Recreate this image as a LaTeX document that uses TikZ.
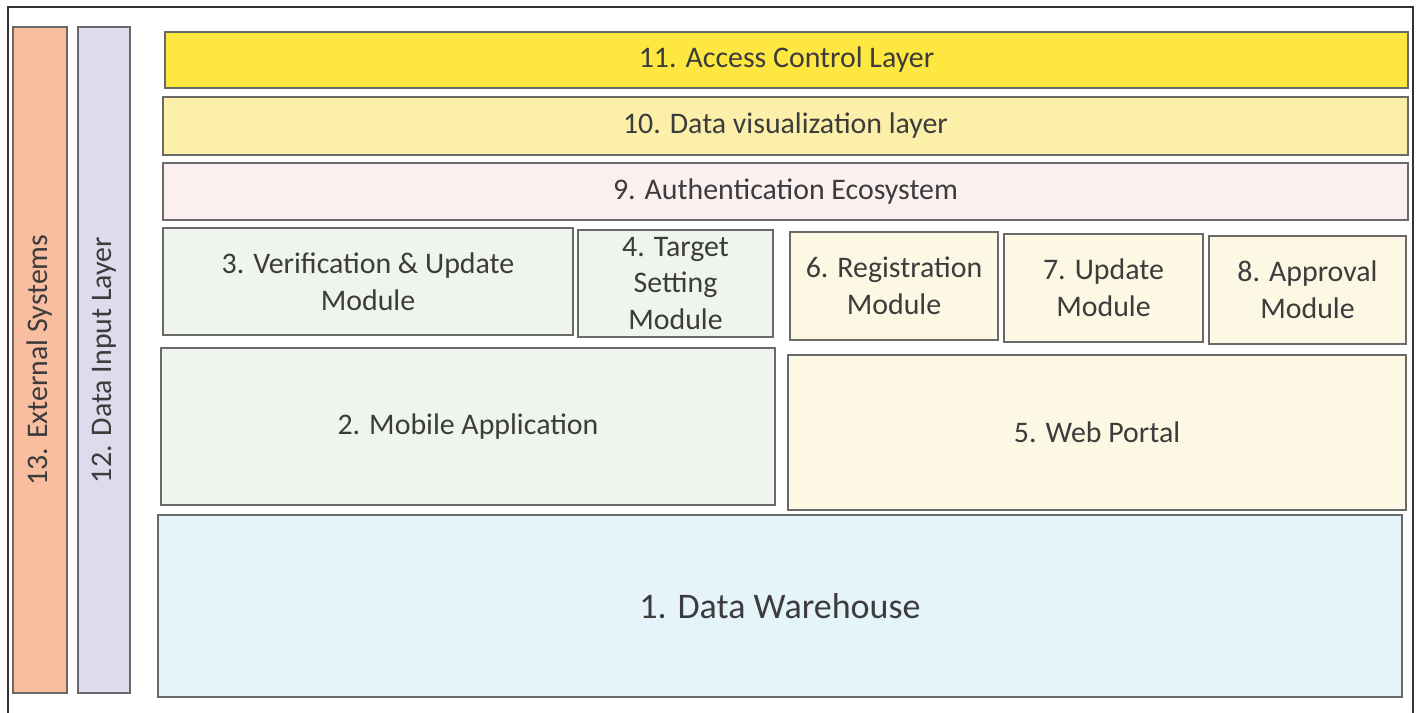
\documentclass[tikz,border=0pt]{standalone}
\usepackage{fontspec}
\setmainfont{Carlito}
\usepackage{xcolor}
\usepackage{tikz}
\usetikzlibrary{positioning}

\definecolor{edgegray}{RGB}{105,105,105}
\definecolor{txtgray}{RGB}{60,60,60}
\definecolor{aclyellow}{RGB}{253,231,64}
\definecolor{visyellow}{RGB}{251,239,170}
\definecolor{authpink}{RGB}{251,239,239}
\definecolor{mobgreen}{RGB}{239,245,236}
\definecolor{webcream}{RGB}{252,248,228}
\definecolor{dwblue}{RGB}{229,243,250}
\definecolor{extorange}{RGB}{249,190,160}
\definecolor{inlav}{RGB}{220,220,236}

\begin{document}
\begin{tikzpicture}[x=0.02cm, y=-0.02cm,
    every node/.style={font=\fontsize{17}{21}\selectfont, text=txtgray},
    blk/.style={draw=edgegray, line width=0.8pt, align=center, inner sep=2pt},
    side/.style={blk, rotate=90, minimum width=13.32cm},
]
\useasboundingbox (0,0) rectangle (1421,713);
\draw[line width=0.8pt, black!80] (8,713) |- (1413,7) -- (1413,713);

% side columns
\node[side, fill=extorange, minimum height=1.08cm] (ext) at (40,360) {13. External Systems};
\node[side, fill=inlav, minimum height=1.04cm] (input) at (104,360) {12. Data Input Layer};

% top layers
\node[blk, fill=aclyellow, minimum width=24.86cm, minimum height=1.12cm] (acl) at (786.5,60) {11. Access Control Layer};
\node[blk, fill=visyellow, minimum width=24.9cm, minimum height=1.16cm] (vis) at (785.5,126) {10. Data visualization layer};
\node[blk, fill=authpink, minimum width=24.9cm, minimum height=1.14cm] (auth) at (785.5,191.5) {9. Authentication Ecosystem};

% modules
\node[blk, fill=mobgreen, minimum width=8.2cm, minimum height=2.14cm] (verif) at (368,281.5) {3. Verification \& Update\\Module};
\node[blk, fill=mobgreen, minimum width=3.9cm, minimum height=2.14cm] (target) at (675.5,283.5) {4. Target\\Setting\\Module};
\node[blk, fill=webcream, minimum width=4.16cm, minimum height=2.16cm] (reg) at (894,286) {6. Registration\\Module};
\node[blk, fill=webcream, minimum width=3.98cm, minimum height=2.16cm] (upd) at (1103.5,288) {7. Update\\Module};
\node[blk, fill=webcream, minimum width=3.94cm, minimum height=2.16cm] (appr) at (1307.5,290) {8. Approval\\Module};

% applications
\node[blk, fill=mobgreen, minimum width=12.28cm, minimum height=3.14cm] (mobile) at (468,426.5) {2. Mobile Application};
\node[blk, fill=webcream, minimum width=12.36cm, minimum height=3.1cm] (web) at (1097,432.5) {5. Web Portal};

% storage
\node[blk, fill=dwblue, minimum width=24.88cm, minimum height=3.64cm, font=\fontsize{20.5}{24}\selectfont] (dw) at (780,606) {1. Data Warehouse};

\end{tikzpicture}
\end{document}
